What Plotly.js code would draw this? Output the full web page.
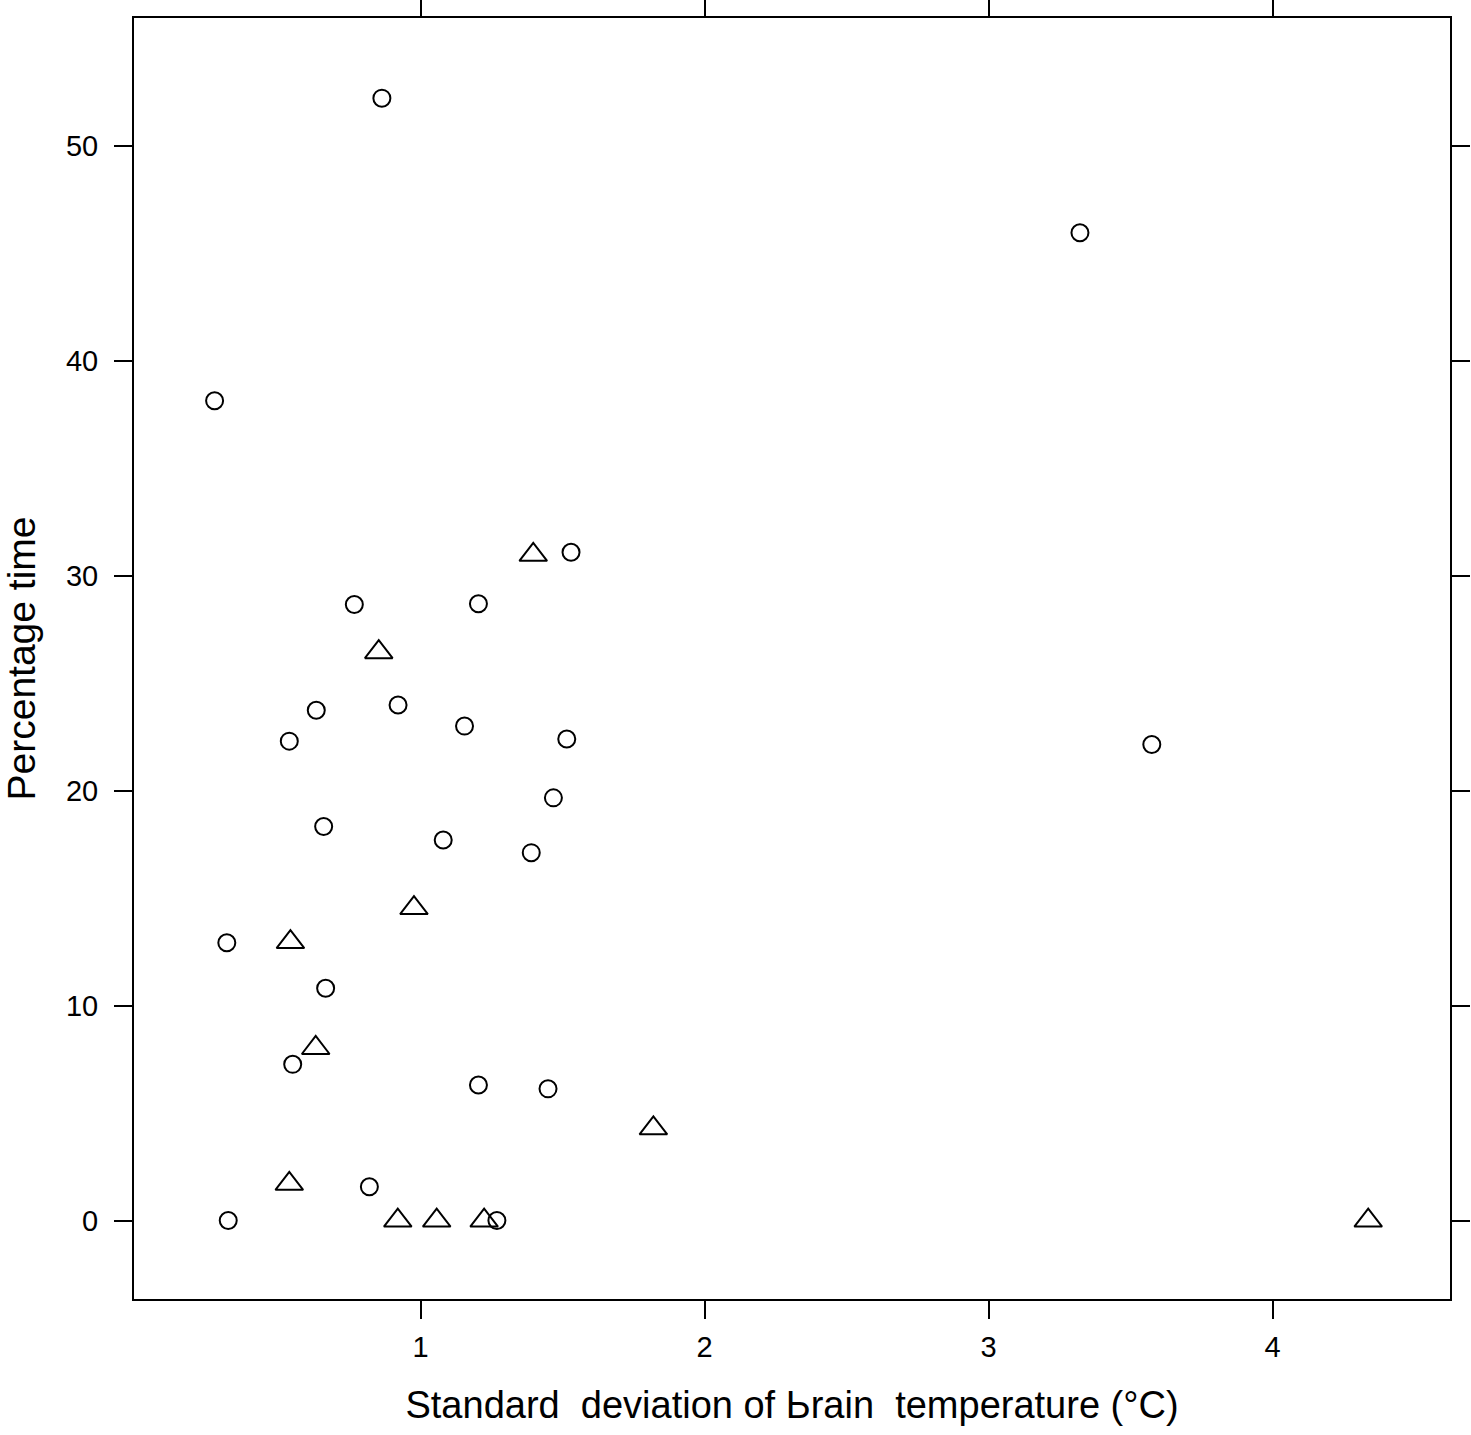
<!doctype html>
<html>
<head>
    <meta content="text/html;charset=utf-8" http-equiv="Content-Type">
    <title>Percentage time vs SD of brain temperature</title>
    <style>
        body {margin: 0; background: white;}
    </style>
    <script src="https://cdn.plot.ly/plotly-3.0.1.min.js"></script>
    <script>
        // ====== DATA ==================================================
        // circles
        let circleX = [0.864, 3.322, 0.275, 1.530, 0.767, 1.204, 0.921, 0.633, 0.538, 1.155, 1.515, 3.575,
                       1.468, 0.659, 1.080, 1.390, 0.318, 0.666, 0.550, 1.204, 1.449, 0.820, 0.323, 1.269];
        let circleY = [52.23, 45.97, 38.15, 31.10, 28.67, 28.70, 23.99, 23.75, 22.31, 23.01, 22.41, 22.15,
                       19.67, 18.34, 17.71, 17.12, 12.93, 10.81, 7.27, 6.31, 6.13, 1.57, 0, 0];
        // triangles
        let triangleX = [1.397, 0.853, 0.977, 0.542, 0.631, 1.820, 0.538, 0.920, 1.057, 1.224, 4.337];
        let triangleY = [30.98, 26.45, 14.54, 12.96, 8.03, 4.29, 1.71, 0, 0, 0, 0];

        let xTicks = [1, 2, 3, 4];
        let yTicks = [0, 10, 20, 30, 40, 50];

        function drawPlot() {
            // ====== SETTINGS ==================================================
            let fontFamily = '"Liberation Sans", Arial, sans-serif';

            let layout = {
                width: 1471,
                height: 1435,
                margin: {l: 134, r: 21, t: 18, b: 136, pad: 0},
                showlegend: false,
                paper_bgcolor: 'white',
                plot_bgcolor: 'white',
                font: {family: fontFamily, color: 'black'},
                xaxis: {
                    range: [-0.0088, 4.625],
                    tickmode: 'array',
                    tickvals: xTicks,
                    ticks: 'outside',
                    ticklen: 18,
                    tickwidth: 2,
                    tickcolor: 'black',
                    showline: true,
                    linewidth: 2,
                    linecolor: 'black',
                    mirror: 'allticks',
                    showgrid: false,
                    zeroline: false,
                    ticklabelstandoff: 3,
                    tickfont: {family: fontFamily, size: 29, color: 'black'},
                    title: {
                        text: 'Standard\u00a0 deviation of \u042crain\u00a0 temperature (\u00b0C)',
                        font: {family: fontFamily, size: 38, color: 'black'},
                        standoff: 30,
                    },
                },
                yaxis: {
                    range: [-3.65, 55.96],
                    tickmode: 'array',
                    tickvals: yTicks,
                    ticks: 'outside',
                    ticklen: 18,
                    tickwidth: 2,
                    tickcolor: 'black',
                    showline: true,
                    linewidth: 2,
                    linecolor: 'black',
                    mirror: 'allticks',
                    showgrid: false,
                    zeroline: false,
                    ticklabelstandoff: 10,
                    tickfont: {family: fontFamily, size: 29, color: 'black'},
                    title: {
                        text: 'Percentage time',
                        font: {family: fontFamily, size: 39, color: 'black'},
                        standoff: 25,
                    },
                },
            };

            let config = {
                displayModeBar: false,
                staticPlot: true,
            };

            // ====== PLOT ==================================================
            let circles = {
                x: circleX,
                y: circleY,
                type: 'scatter',
                mode: 'markers',
                cliponaxis: false,
                marker: {
                    symbol: 'circle-open',
                    size: 17,
                    color: 'black',
                    line: {width: 2, color: 'black'},
                },
            };
            let triangles = {
                x: triangleX,
                y: triangleY,
                type: 'scatter',
                mode: 'markers',
                cliponaxis: false,
                marker: {
                    symbol: 'triangle-up-open',
                    size: 24,
                    color: 'black',
                    line: {width: 2, color: 'black'},
                },
            };

            Plotly.newPlot(document.getElementById('plot'), [circles, triangles], layout, config);
        }
    </script>
</head>
<body onload="drawPlot();">

    <div id="plot"></div>

</body>
</html>
